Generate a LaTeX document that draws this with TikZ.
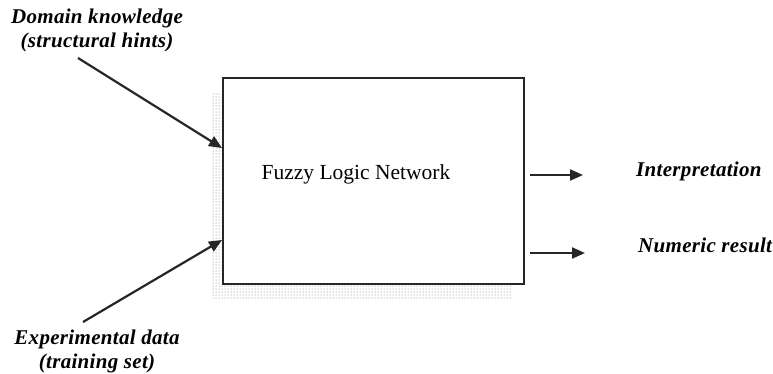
\documentclass[tikz,border=0pt]{standalone}
\usepackage{fontspec}
\setmainfont{Liberation Serif}
\newfontfamily\labelfont[LetterSpace=1.5]{Liberation Serif}
\usetikzlibrary{arrows.meta,patterns}
\tikzset{
  lbl/.style={font=\labelfont\fontsize{21}{24}\selectfont\bfseries\itshape, align=center, inner sep=0pt},
  conn/.style={line width=2.2pt, draw=black!85, -{Triangle[length=13pt,width=11pt]}},
  netbox/.style={draw=black!85, line width=2pt, fill=white},
}
\begin{document}
\begin{tikzpicture}[x=1pt,y=-1pt]
\useasboundingbox (0,0) rectangle (773,373);
% dotted drop shadow behind the network block
\fill[pattern=dots, pattern color=black!55] (212,92) rectangle (512,298);
\draw[netbox] (223,78) rectangle (524,284);
\node[font=\fontsize{21.5}{24}\selectfont, inner sep=0pt] (net) at (356,174) {Fuzzy Logic Network};
\coordinate (inA) at (222,148);
\coordinate (inB) at (222,240);
\coordinate (outA) at (530,175);
\coordinate (outB) at (530,253);
\node[lbl] (dom) at (97,30) {Domain knowledge\\(structural hints)};
\node[lbl] (exp) at (97,351) {Experimental data\\(training set)};
\node[lbl, anchor=west] (interp) at (636,171) {Interpretation};
\node[lbl, anchor=west] (numres) at (638,245) {Numeric result};
\coordinate (domT) at (78,58);
\coordinate (expT) at (83,322);
\coordinate (outAe) at (583,175);
\coordinate (outBe) at (585,253);
\draw[conn] (domT) -- (inA);
\draw[conn] (expT) -- (inB);
\draw[conn] (outA) -- (outAe);
\draw[conn] (outB) -- (outBe);
\end{tikzpicture}
\end{document}
